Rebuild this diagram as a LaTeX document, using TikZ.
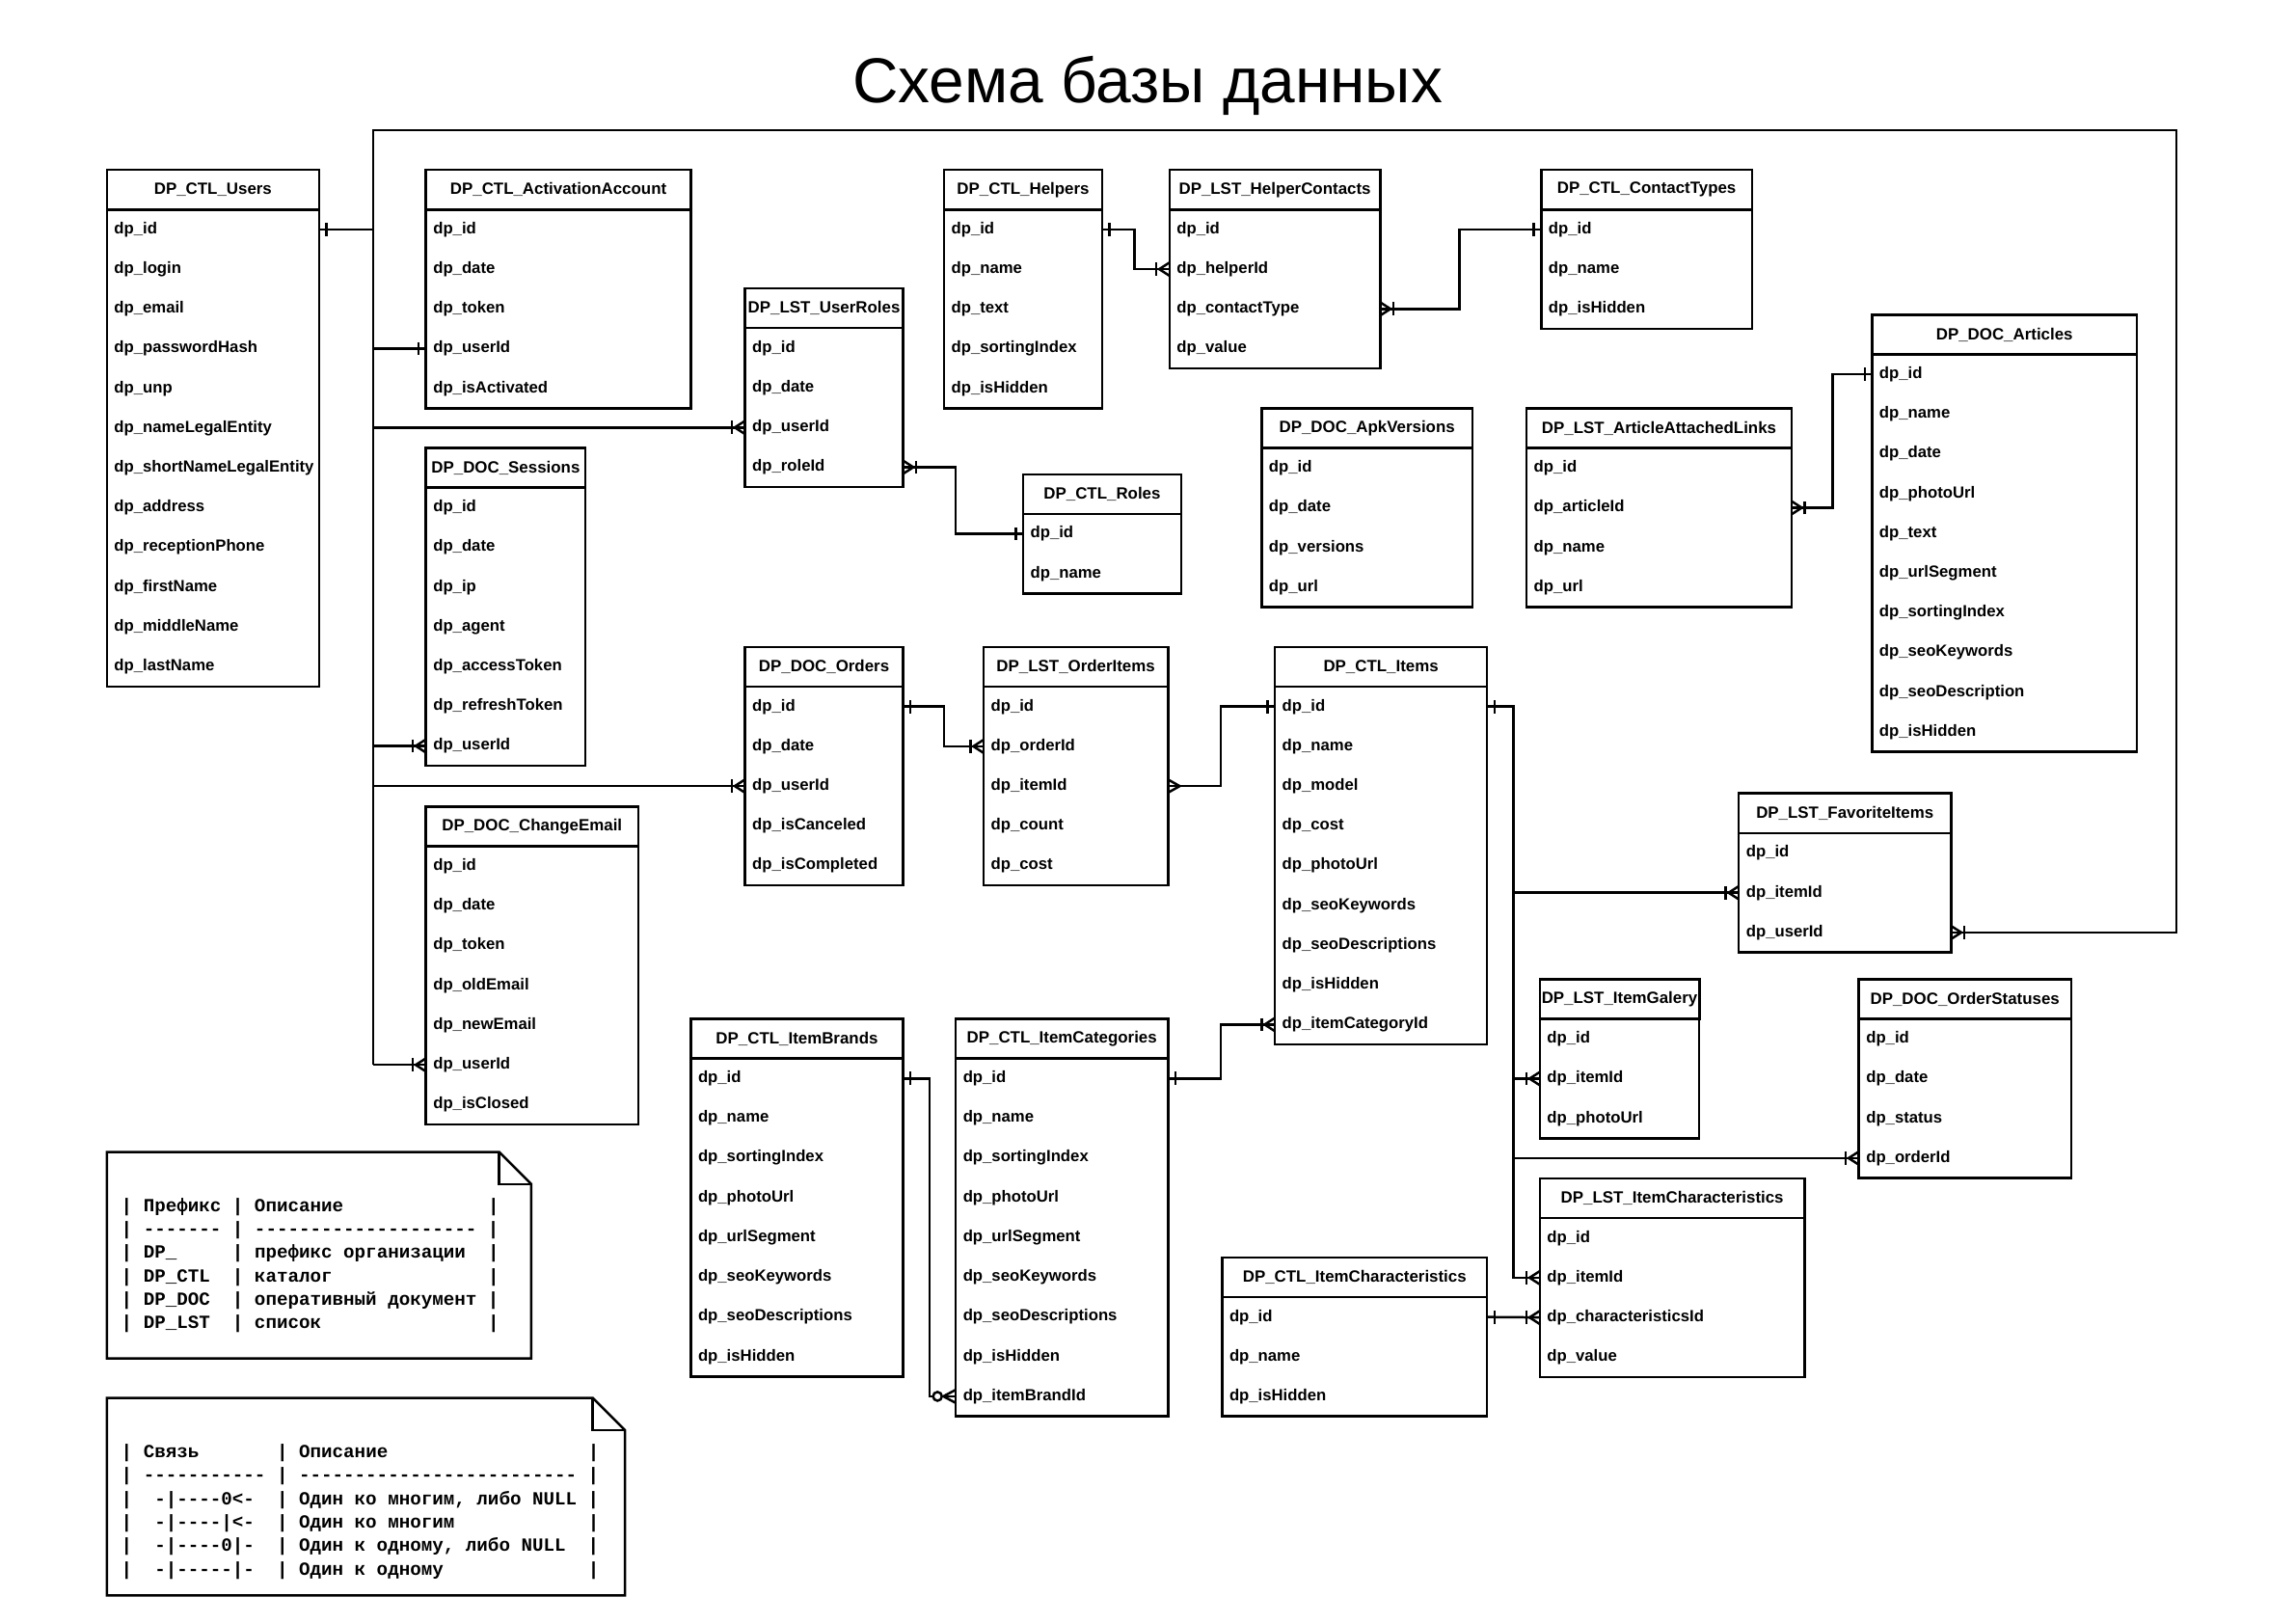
\documentclass[tikz,border=0pt]{standalone}
\usepackage{fontspec}
\setmainfont{Liberation Sans}
\newfontfamily\notefont{Liberation Mono}
\catcode`\_=12

\tikzset{
  erhead/.style={draw, inner sep=0pt, outer sep=0pt, minimum height=0.8145cm, font=\bfseries\fontsize{9.5}{12}\selectfont},
  errow/.style={inner xsep=0.15cm, inner ysep=0pt, outer sep=0pt, minimum height=0.8145cm, align=left, font=\bfseries\fontsize{9.4}{12}\selectfont},
  notetext/.style={inner sep=0pt, align=left, font=\notefont\bfseries\fontsize{10.8}{13.7}\selectfont},
  onemark/.pic={\draw (-5,-4.5) -- (-5,4.5);},
  manymark/.pic={\draw (-9,-4.5) -- (-9,4.5); \draw (0,-4.5) -- (-7,0) -- (0,4.5);},
  crowmark/.pic={\draw (0,-4.5) -- (-8,0) -- (0,4.5);},
  zeromanymark/.pic={\draw[fill=white] (-12.5,0) circle[radius=0.09cm]; \draw (0,-4.5) -- (-8.5,0) -- (0,4.5);}
}

% table: name, x, y, width, title, fields
\newcommand{\ertable}[6]{%
  \pgfmathsetmacro\erw{#4*0.03}%
  \pgfmathsetmacro\ertw{#4*0.03-0.3}%
  \node[erhead, minimum width=\erw cm, anchor=north west] (#1) at (#2,#3) {#5};
  \foreach \fld [count=\i] in {#6} {
    \node[errow, text width=\ertw cm, anchor=north west] (#1-\i) at (#2,{#3+27.15*\i}) {\fld};
    \xdef\errows{\i}
  }
  \draw (#1.south west) rectangle (#1-\errows.south east);
}

\begin{document}
\begin{tikzpicture}[x=0.03cm, y=-0.03cm, line width=1.4pt]
\fill[white] (0,0) rectangle (1568,1109);
\useasboundingbox (0,0) rectangle (1568,1109);

\node[font=\fontsize{37}{44}\selectfont, anchor=base] (title) at (784,70.3) {Схема базы данных};

% tables
\ertable{users}{73}{116}{145}{DP_CTL_Users}{dp_id,dp_login,dp_email,dp_passwordHash,dp_unp,dp_nameLegalEntity,dp_shortNameLegalEntity,dp_address,dp_receptionPhone,dp_firstName,dp_middleName,dp_lastName}
\ertable{activ}{291}{116}{181}{DP_CTL_ActivationAccount}{dp_id,dp_date,dp_token,dp_userId,dp_isActivated}
\ertable{sess}{291}{306}{109}{DP_DOC_Sessions}{dp_id,dp_date,dp_ip,dp_agent,dp_accessToken,dp_refreshToken,dp_userId}
\ertable{chmail}{291}{551}{145}{DP_DOC_ChangeEmail}{dp_id,dp_date,dp_token,dp_oldEmail,dp_newEmail,dp_userId,dp_isClosed}
\ertable{uroles}{509}{197}{108}{DP_LST_UserRoles}{dp_id,dp_date,dp_userId,dp_roleId}
\ertable{helpers}{645}{116}{108}{DP_CTL_Helpers}{dp_id,dp_name,dp_text,dp_sortingIndex,dp_isHidden}
\ertable{hcont}{799}{116}{144}{DP_LST_HelperContacts}{dp_id,dp_helperId,dp_contactType,dp_value}
\ertable{ctypes}{1053}{116}{144}{DP_CTL_ContactTypes}{dp_id,dp_name,dp_isHidden}
\ertable{roles}{699}{324}{108}{DP_CTL_Roles}{dp_id,dp_name}
\ertable{apk}{862}{279}{144}{DP_DOC_ApkVersions}{dp_id,dp_date,dp_versions,dp_url}
\ertable{artlinks}{1043}{279}{181}{DP_LST_ArticleAttachedLinks}{dp_id,dp_articleId,dp_name,dp_url}
\ertable{articles}{1279}{215}{181}{DP_DOC_Articles}{dp_id,dp_name,dp_date,dp_photoUrl,dp_text,dp_urlSegment,dp_sortingIndex,dp_seoKeywords,dp_seoDescription,dp_isHidden}
\ertable{orders}{509}{442}{108}{DP_DOC_Orders}{dp_id,dp_date,dp_userId,dp_isCanceled,dp_isCompleted}
\ertable{oitems}{672}{442}{126}{DP_LST_OrderItems}{dp_id,dp_orderId,dp_itemId,dp_count,dp_cost}
\ertable{items}{871}{442}{145}{DP_CTL_Items}{dp_id,dp_name,dp_model,dp_cost,dp_photoUrl,dp_seoKeywords,dp_seoDescriptions,dp_isHidden,dp_itemCategoryId}
\ertable{fav}{1188}{542}{145}{DP_LST_FavoriteItems}{dp_id,dp_itemId,dp_userId}
\ertable{galery}{1052}{669}{109}{DP_LST_ItemGalery}{dp_id,dp_itemId,dp_photoUrl}
\ertable{ostat}{1270}{669}{145}{DP_DOC_OrderStatuses}{dp_id,dp_date,dp_status,dp_orderId}
\ertable{lstchar}{1052}{805}{181}{DP_LST_ItemCharacteristics}{dp_id,dp_itemId,dp_characteristicsId,dp_value}
\ertable{ctlchar}{835}{859}{181}{DP_CTL_ItemCharacteristics}{dp_id,dp_name,dp_isHidden}
\ertable{brands}{472}{696}{145}{DP_CTL_ItemBrands}{dp_id,dp_name,dp_sortingIndex,dp_photoUrl,dp_urlSegment,dp_seoKeywords,dp_seoDescriptions,dp_isHidden}
\ertable{categ}{653}{696}{145}{DP_CTL_ItemCategories}{dp_id,dp_name,dp_sortingIndex,dp_photoUrl,dp_urlSegment,dp_seoKeywords,dp_seoDescriptions,dp_isHidden,dp_itemBrandId}

% bends
\coordinate (ubus) at (255,89);
\coordinate (rbus) at (1487,89);
\coordinate (ibus) at (1034,0);
\coordinate (hlpx) at (775,0);
\coordinate (ctpx) at (997,0);
\coordinate (rolx) at (653,0);
\coordinate (artx) at (1252,0);
\coordinate (ordx) at (645,0);
\coordinate (itmx) at (834,0);
\coordinate (brdx) at (635,0);

% users
\draw (users-1.east) -- (users-1.east -| ubus);
\draw (chmail-6.west -| ubus) -- (ubus) -- (rbus) -- (rbus |- fav-3.east) -- (fav-3.east);
\draw (ubus |- activ-4.west) -- (activ-4.west);
\draw (ubus |- uroles-3.west) -- (uroles-3.west);
\draw (ubus |- sess-7.west) -- (sess-7.west);
\draw (ubus |- orders-3.west) -- (orders-3.west);
\draw (ubus |- chmail-6.west) -- (chmail-6.west);
\pic[rotate=180] at (users-1.east) {onemark};
\pic at (activ-4.west) {onemark};
\pic at (uroles-3.west) {manymark};
\pic at (sess-7.west) {manymark};
\pic at (orders-3.west) {manymark};
\pic at (chmail-6.west) {manymark};
\pic[rotate=180] at (fav-3.east) {manymark};

% helpers, roles, articles
\draw (helpers-1.east) -- (helpers-1.east -| hlpx) -- (hcont-2.west -| hlpx) -- (hcont-2.west);
\pic[rotate=180] at (helpers-1.east) {onemark};
\pic at (hcont-2.west) {manymark};
\draw (hcont-3.east) -- (hcont-3.east -| ctpx) -- (ctypes-1.west -| ctpx) -- (ctypes-1.west);
\pic[rotate=180] at (hcont-3.east) {manymark};
\pic at (ctypes-1.west) {onemark};
\draw (uroles-4.east) -- (uroles-4.east -| rolx) -- (roles-1.west -| rolx) -- (roles-1.west);
\pic[rotate=180] at (uroles-4.east) {manymark};
\pic at (roles-1.west) {onemark};
\draw (artlinks-2.east) -- (artlinks-2.east -| artx) -- (articles-1.west -| artx) -- (articles-1.west);
\pic[rotate=180] at (artlinks-2.east) {manymark};
\pic at (articles-1.west) {onemark};

% orders
\draw (orders-1.east) -- (orders-1.east -| ordx) -- (oitems-2.west -| ordx) -- (oitems-2.west);
\pic[rotate=180] at (orders-1.east) {onemark};
\pic at (oitems-2.west) {manymark};
\draw (oitems-3.east) -- (oitems-3.east -| itmx) -- (items-1.west -| itmx) -- (items-1.west);
\pic[rotate=180] at (oitems-3.east) {crowmark};
\pic at (items-1.west) {onemark};

% items
\draw (items-1.east) -- (items-1.east -| ibus) -- (lstchar-2.west -| ibus) -- (lstchar-2.west);
\draw (ibus |- fav-2.west) -- (fav-2.west);
\draw (ibus |- galery-2.west) -- (galery-2.west);
\draw (ibus |- ostat-4.west) -- (ostat-4.west);
\pic[rotate=180] at (items-1.east) {onemark};
\pic at (fav-2.west) {manymark};
\pic at (galery-2.west) {manymark};
\pic at (ostat-4.west) {manymark};
\pic at (lstchar-2.west) {manymark};
\draw (categ-1.east) -- (categ-1.east -| itmx) -- (items-9.west -| itmx) -- (items-9.west);
\pic[rotate=180] at (categ-1.east) {onemark};
\pic at (items-9.west) {manymark};
\draw (brands-1.east) -- (brands-1.east -| brdx) -- (categ-9.west -| brdx) -- (categ-9.west);
\pic[rotate=180] at (brands-1.east) {onemark};
\pic at (categ-9.west) {zeromanymark};
\draw (ctlchar-1.east) -- (lstchar-3.west);
\pic[rotate=180] at (ctlchar-1.east) {onemark};
\pic at (lstchar-3.west) {manymark};

% notes
\draw (73,787) -- (341,787) -- (363,809) -- (363,928) -- (73,928) -- cycle;
\draw (341,787) -- (341,809) -- (363,809);
\node[notetext, anchor=west] (prefixes) at (82,864.5) {|~Префикс~|~Описание~~~~~~~~~~~~~|\\
|~-------~|~--------------------~|\\
|~DP_~~~~~|~префикс~организации~~|\\
|~DP_CTL~~|~каталог~~~~~~~~~~~~~~|\\
|~DP_DOC~~|~оперативный~документ~|\\
|~DP_LST~~|~список~~~~~~~~~~~~~~~|};

\draw (73,955) -- (405,955) -- (427,977) -- (427,1090) -- (73,1090) -- cycle;
\draw (405,955) -- (405,977) -- (427,977);
\node[notetext, anchor=west] (links) at (82,1032.7) {|~Связь~~~~~~~|~Описание~~~~~~~~~~~~~~~~~~|\\
|~-----------~|~-------------------------~|\\
|~~-|----0<-~~|~Один~ко~многим,~либо~NULL~|\\
|~~-|----|<-~~|~Один~ко~многим~~~~~~~~~~~~|\\
|~~-|----0|-~~|~Один~к~одному,~либо~NULL~~|\\
|~~-|-----|-~~|~Один~к~одному~~~~~~~~~~~~~|};
\end{tikzpicture}
\end{document}
